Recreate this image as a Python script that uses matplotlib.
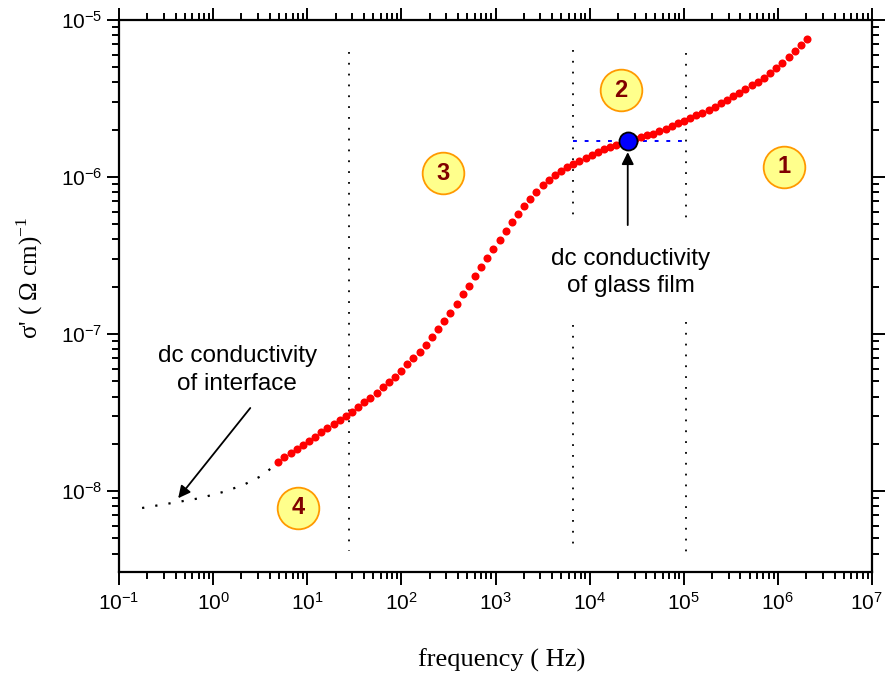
import numpy as np
import matplotlib
matplotlib.use("Agg")
import matplotlib.pyplot as plt
from matplotlib.transforms import ScaledTranslation

plt.rcParams['font.family'] = ['Liberation Sans', 'DejaVu Sans']
plt.rcParams['axes.unicode_minus'] = False

log_f = [0.691, 0.756, 0.822, 0.887, 0.952, 1.018, 1.083, 1.148, 1.214, 1.279,
         1.344, 1.410, 1.475, 1.540, 1.606, 1.671, 1.736, 1.802, 1.867, 1.932,
         1.998, 2.063, 2.128, 2.194, 2.259, 2.324, 2.390, 2.455, 2.520, 2.586,
         2.651, 2.716, 2.782, 2.847, 2.912, 2.978, 3.043, 3.108, 3.174, 3.239,
         3.304, 3.370, 3.435, 3.500, 3.566, 3.631, 3.696, 3.762, 3.827, 3.892,
         3.958, 4.023, 4.088, 4.154, 4.219, 4.284, 4.350, 4.415, 4.480, 4.546,
         4.611, 4.676, 4.742, 4.807, 4.872, 4.938, 5.003, 5.068, 5.134, 5.199,
         5.264, 5.330, 5.395, 5.460, 5.526, 5.591, 5.656, 5.722, 5.787, 5.852,
         5.918, 5.983, 6.048, 6.114, 6.179, 6.244, 6.309]
log_sigma = [-7.815, -7.786, -7.757, -7.733, -7.709, -7.683, -7.657, -7.627, -7.598, -7.573,
             -7.550, -7.524, -7.495, -7.465, -7.434, -7.406, -7.375, -7.339, -7.303, -7.271,
             -7.238, -7.194, -7.152, -7.113, -7.068, -7.019, -6.968, -6.918, -6.864, -6.806,
             -6.748, -6.692, -6.633, -6.576, -6.515, -6.457, -6.402, -6.343, -6.287, -6.234,
             -6.183, -6.140, -6.096, -6.054, -6.017, -5.987, -5.960, -5.938, -5.918, -5.898,
             -5.879, -5.860, -5.840, -5.821, -5.808, -5.795, -5.782, -5.768, -5.757, -5.746,
             -5.735, -5.724, -5.708, -5.692, -5.675, -5.659, -5.643, -5.625, -5.608, -5.591,
             -5.574, -5.552, -5.529, -5.508, -5.485, -5.463, -5.439, -5.416, -5.393, -5.369,
             -5.336, -5.304, -5.271, -5.238, -5.199, -5.160, -5.121]

# extrapolation towards the interface dc plateau
ext_log_f = [-0.755, -0.436, -0.138, 0.106, 0.319, 0.532, 0.691]
ext_log_sigma = [-8.108, -8.076, -8.045, -8.006, -7.962, -7.898, -7.815]

# glass film dc conductivity and region borders
f_dc, sigma_dc = 2.54e4, 1.69e-6
f_borders = [28.0, 6.59e3, 1.05e5]

regions = ['1', '2', '3', '4']
region_f = [1.16e6, 2.14e4, 280.0, 8.0]
region_sigma = [1.16e-6, 3.58e-6, 1.06e-6, 7.8e-9]

x_decades = [1e-1, 1e0, 1e1, 1e2, 1e3, 1e4, 1e5, 1e6, 1e7]
y_decades = [1e-8, 1e-7, 1e-6, 1e-5]

freq = 10 ** np.array(log_f)
sigma = 10 ** np.array(log_sigma)

fig = plt.figure(figsize=(8.85, 6.8), dpi=100)
ax = fig.add_axes([0.1345, 0.1588, 0.8508, 0.8118])
ax.set_xscale('log')
ax.set_yscale('log')
ax.set_xlim(1e-1, 1e7)
ax.set_ylim(3.05e-9, 1e-5)

# region borders (dotted)
dot = (0, (1, 5))
ax.plot([f_borders[0]] * 2, [6.25e-6, 4.15e-9], ls=dot, color='k', lw=1.3)
ax.plot([f_borders[1]] * 2, [6.44e-6, 5.32e-7], ls=dot, color='k', lw=1.3)
ax.plot([f_borders[1]] * 2, [1.14e-7, 4.40e-9], ls=dot, color='k', lw=1.3)
ax.plot([f_borders[2]] * 2, [6.17e-6, 5.09e-7], ls=dot, color='k', lw=1.3)
ax.plot([f_borders[2]] * 2, [1.19e-7, 4.08e-9], ls=dot, color='k', lw=1.3)

ax.plot(10 ** np.array(ext_log_f), 10 ** np.array(ext_log_sigma),
        ls=(0, (1, 5)), color='k', lw=1.6)

ax.plot([f_borders[1], f_borders[2]], [sigma_dc, sigma_dc],
        ls=(0, (2, 4)), color='#0000ff', lw=1.4, zorder=3)

ax.plot(freq, sigma, 'o', color='#ff0000', ms=5.8, mec='none', zorder=4)
ax.plot([f_dc], [sigma_dc], 'o', color='#0000ff', ms=13, mec='k', mew=1.3, zorder=5)

ax.annotate('', xy=(f_dc, 1.44e-6), xytext=(f_dc, 4.94e-7),
            arrowprops=dict(arrowstyle='-|>', color='k', lw=1.3, mutation_scale=18,
                            shrinkA=0, shrinkB=0))
ax.text(2.73e4, 2.45e-7, 'dc conductivity\nof glass film', ha='center', va='center',
        fontsize=17.5, linespacing=1.3)

ax.annotate('', xy=(0.425, 9.0e-9), xytext=(2.48, 3.38e-8),
            arrowprops=dict(arrowstyle='-|>', color='k', lw=1.3, mutation_scale=18,
                            shrinkA=0, shrinkB=0))
ax.text(1.8, 5.9e-8, 'dc conductivity\nof interface', ha='center', va='center',
        fontsize=17.5, linespacing=1.3)

ax.scatter(region_f, region_sigma, s=900, c='#ffff8c', edgecolors='#ff9900',
           linewidths=1.3, zorder=6)
for lab, fx, sy in zip(regions, region_f, region_sigma):
    ax.text(fx, sy, lab, ha='center', va='center', fontsize=17, fontweight='bold',
            color='#800000', zorder=7)

for s in ax.spines.values():
    s.set_linewidth(1.6)
ax.set_xticks(x_decades)
ax.set_yticks(y_decades)
ax.xaxis.set_minor_locator(matplotlib.ticker.LogLocator(base=10, subs=np.arange(2, 10), numticks=20))
ax.yaxis.set_minor_locator(matplotlib.ticker.LogLocator(base=10, subs=np.arange(2, 10), numticks=20))
ax.tick_params(which='both', direction='out', top=True, right=True, width=1.4,
               labelsize=15)
ax.tick_params(which='major', length=9)
ax.tick_params(axis='y', which='major', pad=3)
ax.tick_params(axis='x', which='major', pad=5)
ax.tick_params(which='minor', length=5)

# keep the last x label inside the figure
last = ax.xaxis.get_major_ticks()[-1].label1
last.set_transform(last.get_transform() + ScaledTranslation(-4 / 72, 0, fig.dpi_scale_trans))

ax.set_xlabel('frequency ( Hz)', family='Liberation Serif', fontsize=19, labelpad=26)
ax.xaxis.set_label_coords(0.508, -0.16)
ax.xaxis.label.set_va('center')
ax.set_ylabel("σ' ( Ω cm)$^{\\mathdefault{-1}}$", family='Liberation Serif', fontsize=18)
ax.yaxis.set_label_coords(-0.098, 0.533)

fig.savefig('out.png', dpi=100)
